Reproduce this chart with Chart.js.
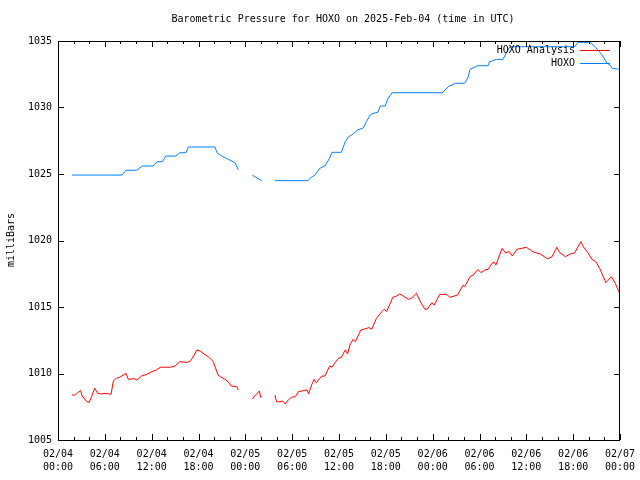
<!DOCTYPE html>
<html>
<head>
<meta charset="utf-8">
<script src="https://cdn.jsdelivr.net/npm/chart.js@4.4.1/dist/chart.umd.min.js"></script>
<style>
  html, body { margin: 0; padding: 0; background: #fff; }
  #wrap { width: 640px; height: 480px; }
</style>
</head>
<body>
<div id="wrap"><canvas id="myChart" width="640" height="480"></canvas></div>
<script>
// hours since 2025-02-04 00:00 UTC, null = no data
const analysisHours = [1.8,2.2,2.6,2.9,3.1,3.7,4.0,4.3,4.7,5.1,5.6,6.0,6.8,7.1,7.5,7.9,8.4,8.7,9.0,9.5,9.7,10.1,10.7,11.4,12.0,12.6,13.1,14.4,15.0,15.6,16.5,16.9,17.3,17.8,18.2,18.7,19.3,19.9,20.5,20.8,21.4,21.8,22.2,22.9,23.1,
  24.0,24.9,25.2,25.8,26.0,27.0,
  27.8,28.0,28.4,28.8,29.1,29.5,29.9,30.4,30.8,31.4,31.9,32.1,32.5,32.8,33.1,33.8,34.2,34.8,35.1,35.5,35.9,36.3,36.8,37.1,37.4,37.8,38.1,38.8,39.6,39.8,40.2,40.8,41.5,41.8,42.1,42.9,43.4,43.8,44.2,44.9,45.3,45.9,46.5,47.0,47.3,47.9,48.2,48.9,49.8,50.2,51.2,51.5,51.9,52.1,52.8,53.2,53.8,54.2,54.7,55.1,55.6,55.9,56.1,56.9,57.3,57.8,58.2,58.8,59.4,60.0,60.8,61.8,62.6,62.9,63.3,63.9,64.3,65.0,65.6,66.2,67.0,67.3,67.9,68.4,68.9,69.4,70.2,70.9,71.4,71.9];
const analysisMb = [1008.38,1008.38,1008.59,1008.71,1008.31,1007.88,1007.83,1008.26,1008.89,1008.51,1008.46,1008.51,1008.44,1009.46,1009.64,1009.71,1009.89,1010.02,1009.56,1009.59,1009.64,1009.51,1009.81,1009.94,1010.14,1010.26,1010.47,1010.47,1010.56,1010.89,1010.84,1010.89,1011.24,1011.77,1011.69,1011.47,1011.24,1010.89,1009.89,1009.76,1009.56,1009.38,1009.06,1009.01,1008.76,
  null,1008.08,1008.31,1008.68,1008.16,null,
  1008.38,1007.88,1007.88,1007.93,1007.71,1008.01,1008.21,1008.26,1008.63,1008.71,1008.76,1008.46,1009.14,1009.56,1009.31,1009.81,1009.81,1010.56,1010.47,1010.81,1011.14,1011.22,1011.77,1011.47,1012.14,1012.57,1012.39,1013.27,1013.40,1013.47,1013.32,1014.15,1014.65,1014.83,1014.65,1015.73,1015.83,1015.98,1015.83,1015.58,1015.65,1016.03,1015.32,1014.83,1014.83,1015.32,1015.15,1015.95,1015.95,1015.73,1015.90,1016.23,1016.65,1016.53,1017.28,1017.41,1017.83,1017.58,1017.78,1017.83,1018.29,1018.36,1018.16,1019.41,1019.08,1019.16,1018.83,1019.34,1019.41,1019.49,1019.16,1018.98,1018.66,1018.66,1018.78,1019.49,1019.08,1018.78,1018.98,1019.08,1019.91,1019.53,1019.08,1018.59,1018.41,1017.91,1016.83,1017.28,1016.78,1016.08];

const stationHours = [1.8,8.2,8.7,10.1,10.8,12.2,12.7,13.4,13.8,15.1,15.6,16.4,16.7,20.1,20.4,21.0,22.0,22.7,23.1,
  24.0,24.9,25.5,26.1,27.0,
  27.8,32.0,32.5,32.9,33.6,34.2,34.8,35.1,36.3,36.8,37.2,37.8,38.4,39.1,39.5,40.0,40.2,41.0,41.3,41.9,42.3,42.8,49.2,49.6,50.0,50.9,52.1,52.5,52.8,53.7,55.1,55.3,56.2,57.0,57.5,57.9,66.2,66.6,68.2,68.8,69.4,69.8,70.3,70.7,71.0,72.0];
const stationMb = [1024.92,1024.92,1025.28,1025.28,1025.60,1025.60,1025.92,1025.92,1026.35,1026.35,1026.60,1026.60,1027.03,1027.03,1026.58,1026.35,1026.05,1025.83,1025.30,
  null,1024.92,1024.70,1024.50,null,
  1024.50,1024.50,1024.77,1024.92,1025.45,1025.60,1026.20,1026.63,1026.63,1027.43,1027.78,1028.01,1028.31,1028.46,1028.93,1029.44,1029.51,1029.66,1030.11,1030.11,1030.69,1031.11,1031.11,1031.32,1031.56,1031.82,1031.82,1032.22,1032.87,1033.14,1033.14,1033.44,1033.62,1033.62,1034.17,1034.57,1034.57,1034.90,1034.90,1034.57,1034.17,1033.87,1033.35,1033.20,1032.95,1032.87];

const xTicks = [0, 6, 12, 18, 24, 30, 36, 42, 48, 54, 60, 66, 72];
const yTicks = [1005, 1010, 1015, 1020, 1025, 1030, 1035];
const seriesNames = ["HOXO Analysis", "HOXO"];
const seriesColors = ["#ff0000", "#0080ff"];

const monoFont = "DejaVu Sans Mono";

function pairs(xs, ys) {
  return xs.map(function (h, i) { return { x: h, y: ys[i] }; });
}

function tickLabel(h) {
  var day = 4 + Math.floor(h / 24);
  var hr = h % 24;
  return ["02/0" + day, (hr < 10 ? "0" : "") + hr + ":00"];
}

// gnuplot style frame, inward ticks, title, legend
const framePlugin = {
  id: "frame",
  afterDraw: function (chart) {
    var ctx = chart.ctx;
    var a = chart.chartArea;
    var xs = chart.scales.x, ys = chart.scales.y;
    ctx.save();
    ctx.strokeStyle = "#000";
    ctx.lineWidth = 1;
    ctx.strokeRect(Math.round(a.left) + 0.5, Math.round(a.top) + 0.5,
                   Math.round(a.right - a.left) - 1, Math.round(a.bottom - a.top));
    ctx.beginPath();
    for (var h = 0; h <= 72; h += 2) {
      var px = Math.round(xs.getPixelForValue(h)) + 0.5;
      var len = (h % 6 === 0) ? 6 : 3;
      ctx.moveTo(px, a.bottom); ctx.lineTo(px, a.bottom - len);
      ctx.moveTo(px, a.top); ctx.lineTo(px, a.top + len);
    }
    yTicks.forEach(function (v) {
      var py = Math.round(ys.getPixelForValue(v)) + 0.5;
      ctx.moveTo(a.left, py); ctx.lineTo(a.left + 6, py);
      ctx.moveTo(a.right, py); ctx.lineTo(a.right - 6, py);
    });
    ctx.stroke();

    ctx.fillStyle = "#000";
    ctx.font = "10px '" + monoFont + "'";
    ctx.textAlign = "center";
    ctx.textBaseline = "middle";
    ctx.fillText("Barometric Pressure for HOXO on 2025-Feb-04 (time in UTC)", 343, 19);

    ctx.save();
    ctx.translate(11, 240);
    ctx.rotate(-Math.PI / 2);
    ctx.fillText("milliBars", 0, 0);
    ctx.restore();

    ctx.textAlign = "right";
    seriesNames.forEach(function (name, i) {
      var y = 50 + i * 13;
      ctx.fillStyle = "#000";
      ctx.fillText(name, 575, y);
      ctx.strokeStyle = seriesColors[i];
      ctx.beginPath();
      ctx.moveTo(580, y + 0.5); ctx.lineTo(610, y + 0.5);
      ctx.stroke();
    });
    ctx.restore();
  }
};

new Chart("myChart", {
  type: "line",
  data: {
    datasets: [{
      label: seriesNames[0],
      data: pairs(analysisHours, analysisMb),
      borderColor: seriesColors[0],
      borderWidth: 1,
      pointRadius: 0,
      fill: false,
      spanGaps: false
    }, {
      label: seriesNames[1],
      data: pairs(stationHours, stationMb),
      borderColor: seriesColors[1],
      borderWidth: 1,
      pointRadius: 0,
      fill: false,
      spanGaps: false
    }]
  },
  options: {
    responsive: false,
    animation: false,
    layout: { padding: { top: 41, right: 20, left: 0, bottom: 0 } },
    plugins: {
      legend: { display: false },
      title: { display: false },
      tooltip: { enabled: false }
    },
    scales: {
      x: {
        type: "linear",
        min: 0,
        max: 72,
        afterBuildTicks: function (s) { s.ticks = xTicks.map(function (v) { return { value: v }; }); },
        afterFit: function (s) { s.height = 40; s.paddingLeft = 0; s.paddingRight = 0; },
        grid: { display: false, drawTicks: false },
        border: { display: false },
        ticks: {
          color: "#000",
          padding: 8,
          maxRotation: 0,
          autoSkip: false,
          font: { family: monoFont, size: 10, lineHeight: 1.3 },
          callback: function (v) { return tickLabel(v); }
        }
      },
      y: {
        min: 1005,
        max: 1035,
        afterBuildTicks: function (s) { s.ticks = yTicks.map(function (v) { return { value: v }; }); },
        afterFit: function (s) { s.width = 58; s.paddingTop = 0; s.paddingBottom = 0; },
        grid: { display: false, drawTicks: false },
        border: { display: false },
        ticks: {
          color: "#000",
          padding: 6,
          font: { family: monoFont, size: 10 },
          callback: function (v) { return String(v); }
        }
      }
    }
  },
  plugins: [framePlugin]
});
</script>
</body>
</html>
